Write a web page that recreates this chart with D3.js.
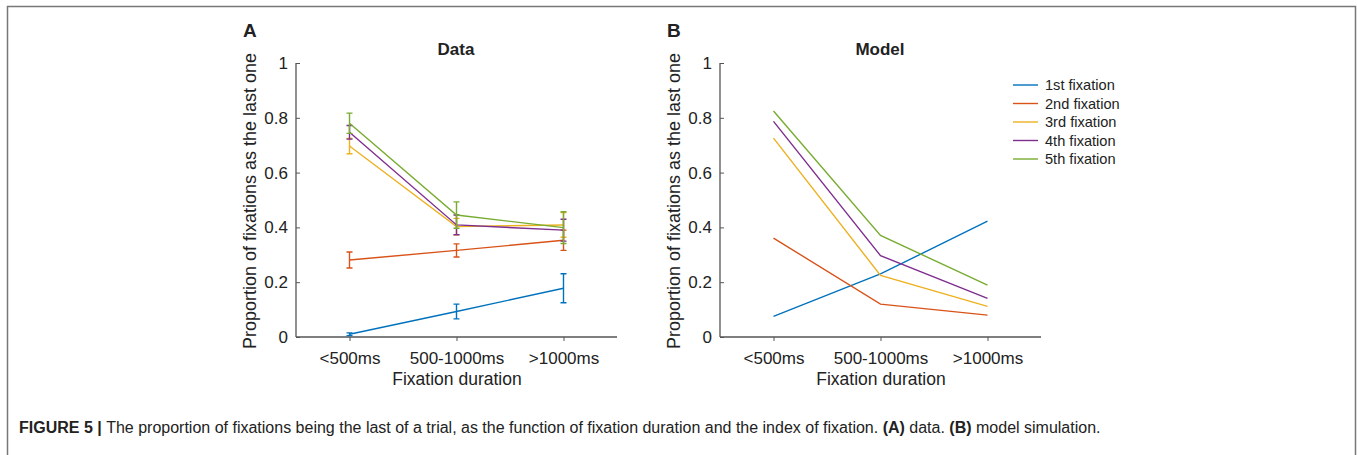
<!DOCTYPE html>
<html><head><meta charset="utf-8">
<script src="https://cdn.jsdelivr.net/npm/d3@7"></script>
<style>body{margin:0;background:#fff}svg{display:block}text{font-family:"Liberation Sans",Arial,sans-serif;fill:#222}</style>
</head><body><svg id="c" width="1357" height="455"></svg>
<script>
const categories = ["<500ms", "500-1000ms", ">1000ms"];
const seriesNames = ["1st fixation", "2nd fixation", "3rd fixation", "4th fixation", "5th fixation"];
const colors = ["#0072BD", "#D95319", "#EDB120", "#7E2F8E", "#77AC30"];
const yTicks = [0, 0.2, 0.4, 0.6, 0.8, 1];
// Panel A (data): means and error half-widths
const dataMeans = [
  [0.010, 0.093, 0.178],
  [0.281, 0.316, 0.353],
  [0.697, 0.403, 0.409],
  [0.747, 0.409, 0.390],
  [0.780, 0.445, 0.399]
];
const dataErr = [
  [0.005, 0.027, 0.053],
  [0.029, 0.024, 0.037],
  [0.028, 0.030, 0.045],
  [0.025, 0.036, 0.040],
  [0.037, 0.048, 0.058]
];
// Panel B (model)
const modelVals = [
  [0.075, 0.230, 0.423],
  [0.361, 0.120, 0.080],
  [0.726, 0.225, 0.112],
  [0.787, 0.297, 0.141],
  [0.825, 0.371, 0.189]
];

const svg = d3.select("#c");
// frame
svg.append("path").attr("d","M7.5,460 V6.5 H1355.5 V460").attr("fill","none").attr("stroke","#777").attr("stroke-width",1.5);

function panel(x0, letter, title, vals, errs) {
  const x = d3.scaleLinear().domain([0.5, 3.5]).range([x0, x0 + 321]);
  const y = d3.scaleLinear().domain([0, 1]).range([337, 63]);
  const g = svg.append("g");
  const ya = g.append("g").attr("transform", `translate(${x0},0)`)
    .call(d3.axisLeft(y).tickValues(yTicks).tickFormat(d3.format("~g")).tickSize(-4).tickPadding(8));
  const xa = g.append("g").attr("transform", `translate(0,337)`)
    .call(d3.axisBottom(x).tickValues([1,2,3]).tickFormat((d,i)=>categories[i]).tickSize(4).tickPadding(11));
  [ya, xa].forEach(a => {
    a.attr("font-size", null).attr("font-family", null);
    a.select(".domain").attr("stroke", "#555").attr("stroke-width", 1.3);
    a.selectAll(".tick line").attr("stroke", "#555");
    a.selectAll(".tick text").attr("font-size", 17).attr("fill", "#222");
  });
  ya.select(".domain").attr("d", `M0,337V63`);
  xa.select(".domain").attr("d", `M${x0},0H${x0+321}`);
  g.append("text").attr("x", x0 - 53).attr("y", 37).attr("font-weight", "bold").attr("font-size", 19).text(letter);
  g.append("text").attr("x", x0 + 160).attr("y", 55).attr("text-anchor", "middle").attr("font-weight", "bold").attr("font-size", 17).text(title);
  g.append("text").attr("transform", `translate(${x0 - 40},201) rotate(-90)`).attr("text-anchor", "middle").attr("font-size", 18).text("Proportion of fixations as the last one");
  g.append("text").attr("x", x0 + 161).attr("y", 385).attr("text-anchor", "middle").attr("font-size", 17.5).text("Fixation duration");
  const line = d3.line().x((d, i) => x(i + 1)).y(d => y(d));
  vals.forEach((s, k) => {
    g.append("path").attr("d", line(s)).attr("fill", "none").attr("stroke", colors[k]).attr("stroke-width", 1.4);
    if (errs) {
      s.forEach((v, i) => {
        const e = errs[k][i], cx = x(i + 1);
        const p = `M${cx},${y(v - e)}V${y(v + e)}M${cx - 3},${y(v - e)}H${cx + 3}M${cx - 3},${y(v + e)}H${cx + 3}`;
        g.append("path").attr("d", p).attr("fill", "none").attr("stroke", colors[k]).attr("stroke-width", 1.4);
      });
    }
  });
}
panel(296, "A", "Data", dataMeans, dataErr);
panel(720, "B", "Model", modelVals, null);

// legend
const lg = svg.append("g");
seriesNames.forEach((n, i) => {
  const yy = 85 + i * 18.5;
  lg.append("line").attr("x1", 1013).attr("x2", 1038).attr("y1", yy).attr("y2", yy).attr("stroke", colors[i]).attr("stroke-width", 1.4);
  lg.append("text").attr("x", 1045).attr("y", yy + 5).attr("font-size", 14.6).text(n);
});

// caption
const cap = svg.append("text").attr("x", 19).attr("y", 433).attr("font-size", 16);
cap.append("tspan").attr("font-weight", "bold").text("FIGURE 5 | ");
cap.append("tspan").text("The proportion of fixations being the last of a trial, as the function of fixation duration and the index of fixation. ");
cap.append("tspan").attr("font-weight", "bold").text("(A)");
cap.append("tspan").text(" data. ");
cap.append("tspan").attr("font-weight", "bold").text("(B)");
cap.append("tspan").text(" model simulation.");
</script></body></html>
